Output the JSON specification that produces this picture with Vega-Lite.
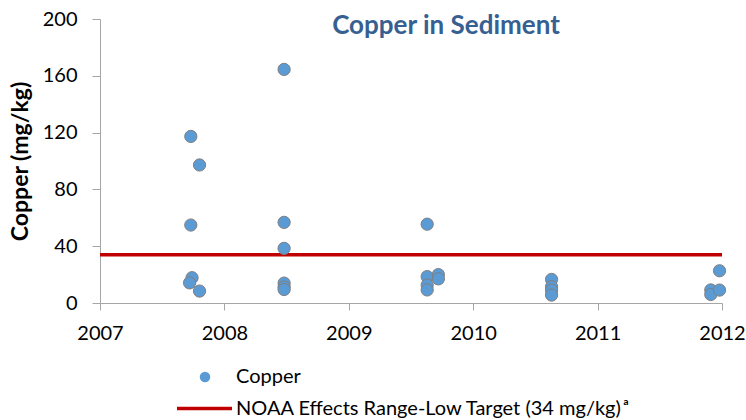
{
  "$schema": "https://vega.github.io/schema/vega-lite/v6.json",
  "width": 622,
  "height": 284,
  "autosize": {"type": "none"},
  "padding": {"left": 100, "top": 19, "right": 24, "bottom": 117},
  "background": "white",
  "config": {
    "view": {"stroke": null},
    "font": "Lato",
    "axis": {"labelFont": "Lato", "titleFont": "Lato", "labelColor": "#000000", "titleColor": "#000000", "domainColor": "#A6A6A6", "tickColor": "#A6A6A6", "grid": false},
    "legend": {"labelFont": "Lato", "labelFontSize": 20, "labelColor": "#000000", "labelLimit": 0}
  },
  "title": {
    "text": "Copper in Sediment",
    "font": "Lato",
    "fontSize": 26,
    "fontWeight": "bold",
    "color": "#376092",
    "frame": "group",
    "anchor": "middle",
    "orient": "top",
    "baseline": "top",
    "offset": 0,
    "dx": 35,
    "dy": 30
  },
  "datasets": {
    "copper": [
      {"year": 2007.73, "cu": 117.3},
      {"year": 2007.80, "cu": 97.2},
      {"year": 2007.73, "cu": 54.9},
      {"year": 2007.74, "cu": 17.8},
      {"year": 2007.72, "cu": 14.2},
      {"year": 2007.80, "cu": 8.4},
      {"year": 2008.48, "cu": 164.5},
      {"year": 2008.48, "cu": 56.8},
      {"year": 2008.48, "cu": 38.5},
      {"year": 2008.48, "cu": 14.0},
      {"year": 2008.48, "cu": 11.2},
      {"year": 2008.48, "cu": 9.5},
      {"year": 2009.63, "cu": 55.5},
      {"year": 2009.63, "cu": 18.6},
      {"year": 2009.63, "cu": 12.6},
      {"year": 2009.63, "cu": 9.2},
      {"year": 2009.72, "cu": 20.0},
      {"year": 2009.72, "cu": 17.0},
      {"year": 2010.63, "cu": 16.6},
      {"year": 2010.63, "cu": 11.5},
      {"year": 2010.63, "cu": 9.0},
      {"year": 2010.63, "cu": 5.6},
      {"year": 2011.91, "cu": 9.2},
      {"year": 2011.91, "cu": 6.0},
      {"year": 2011.98, "cu": 22.7},
      {"year": 2011.98, "cu": 9.1}
    ],
    "target": [
      {"start": 2007, "end": 2012, "value": 34}
    ]
  },
  "layer": [
    {
      "data": {"name": "target"},
      "mark": {"type": "rule", "strokeWidth": 3.5},
      "encoding": {
        "x": {"field": "start", "type": "quantitative"},
        "x2": {"field": "end"},
        "y": {"field": "value", "type": "quantitative"},
        "stroke": {
          "datum": "NOAA Effects Range-Low Target (34 mg/kg)\u2009ᵃ",
          "type": "nominal",
          "scale": {"range": ["#C00000"]},
          "legend": {
            "title": null,
            "orient": "none",
            "legendX": 75,
            "legendY": 360,
            "symbolType": "stroke",
            "symbolSize": 3025,
            "symbolStrokeWidth": 3.5,
            "labelOffset": 2,
            "labelLimit": 0
          }
        }
      }
    },
    {
      "data": {"name": "copper"},
      "mark": {"type": "point", "filled": true, "opacity": 1, "size": 150, "stroke": "#7F7F7F", "strokeWidth": 1},
      "encoding": {
        "x": {
          "field": "year", "type": "quantitative",
          "scale": {"domain": [2007, 2012], "nice": false, "zero": false},
          "axis": {"values": [2007, 2008, 2009, 2010, 2011, 2012], "format": "d", "title": null, "labelFontSize": 20, "tickSize": 7, "labelPadding": 13, "labelFlush": false}
        },
        "y": {
          "field": "cu", "type": "quantitative",
          "scale": {"domain": [0, 200], "nice": false},
          "axis": {"values": [0, 40, 80, 120, 160, 200], "title": "Copper (mg/kg)", "titleFontSize": 23, "titleFontWeight": "bold", "labelFontSize": 20, "tickSize": 8, "labelPadding": 15, "titlePadding": 10}
        },
        "fill": {
          "datum": "Copper",
          "type": "nominal",
          "scale": {"range": ["#5B9BD5"]},
          "legend": {
            "title": null,
            "orient": "none",
            "legendX": 95,
            "legendY": 348,
            "symbolType": "circle",
            "symbolSize": 110,
            "symbolStrokeWidth": 0,
            "symbolFillColor": "#5B9BD5",
            "labelOffset": 21
          }
        }
      }
    }
  ]
}
